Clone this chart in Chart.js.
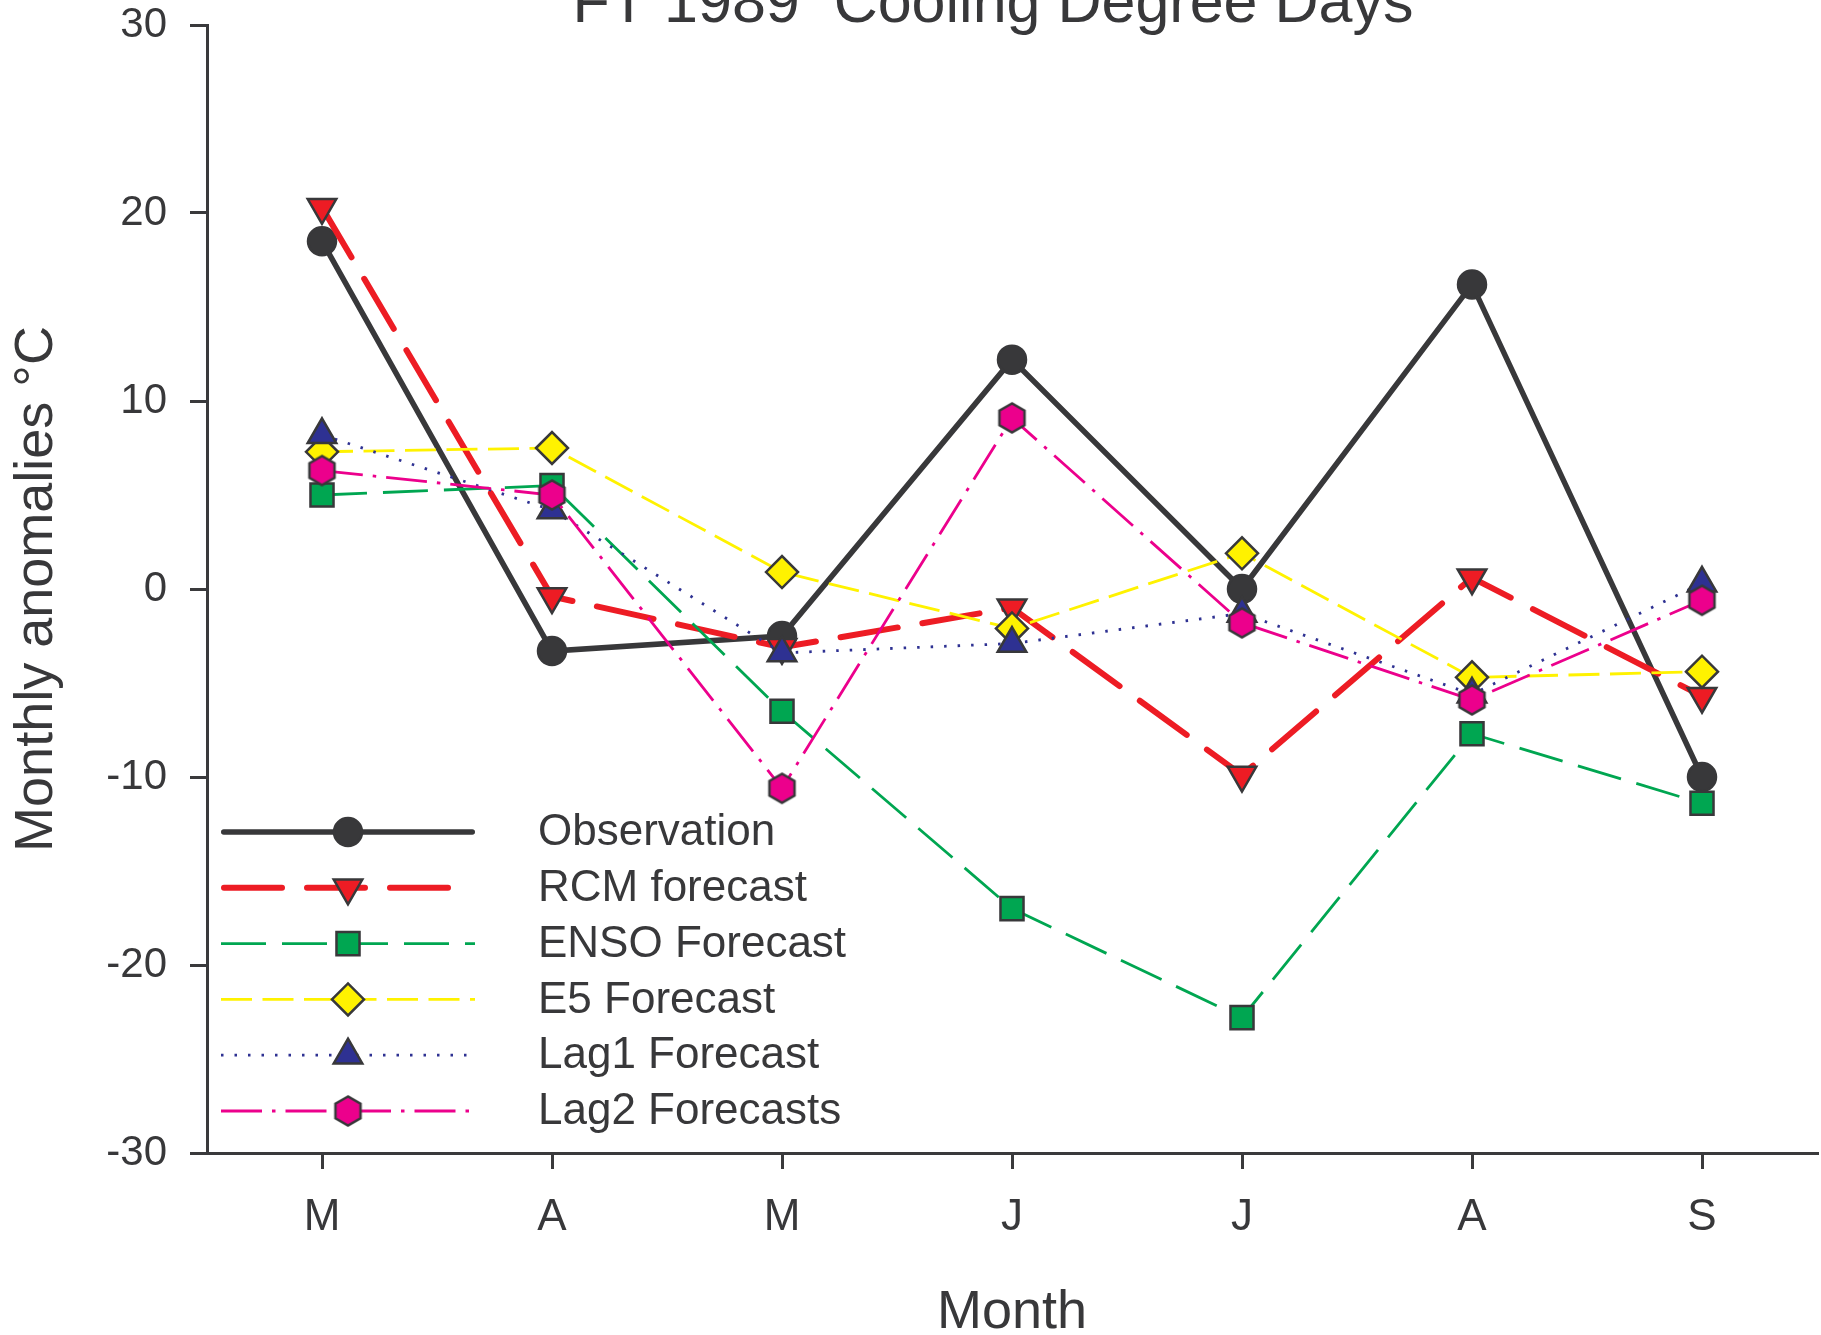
<!DOCTYPE html>
<html>
<head>
<meta charset="utf-8">
<script src="https://cdn.jsdelivr.net/npm/chart.js@4/dist/chart.umd.min.js"></script>
<style>
html,body{margin:0;padding:0;background:#fff;overflow:hidden}
#wrap{width:1821px;height:1335px;position:relative}
canvas{display:block}
</style>
</head>
<body>
<div id="wrap"><canvas id="c" width="1821" height="1335"></canvas></div>
<script>
// ---- data ----
const titleText = 'FT 1989  Cooling Degree Days';
const xTitle = 'Month';
const yTitle = 'Monthly anomalies \u00B0C';
const months = ['M', 'A', 'M', 'J', 'J', 'A', 'S'];
const yTicks = [-30, -20, -10, 0, 10, 20, 30];
const yTickLabels = ['-30', '-20', '-10', '0', '10', '20', '30'];
const seriesNames = ['Observation', 'RCM forecast', 'ENSO Forecast', 'E5 Forecast', 'Lag1 Forecast', 'Lag2 Forecasts'];
const observation = [18.5, -3.3, -2.5, 12.2, 0.0, 16.2, -10.0];
const rcmForecast = [20.3, -0.4, -3.1, -1.0, -9.9, 0.6, -5.7];
const ensoForecast = [5.0, 5.5, -6.5, -17.0, -22.8, -7.7, -11.4];
const e5Forecast = [7.3, 7.5, 0.9, -2.1, 1.9, -4.7, -4.4];
const lag1Forecast = [8.2, 4.2, -3.4, -2.9, -1.3, -5.6, 0.3];
const lag2Forecast = [6.3, 5.0, -10.6, 9.1, -1.8, -5.9, -0.6];

// ---- styles ----
const FONT = '"Liberation Sans", Arial, Helvetica, sans-serif';
const axisColor = '#3a3a3c';
const textColor = '#38383a';
const edge = '#38383a';
const C = {obs: '#38383a', rcm: '#ed1c24', enso: '#00a651', e5: '#fff200', lag1: '#2e3192', lag2: '#ec008c'};

function makeHex(R, lw, fill, stroke) {
  const w = Math.ceil(Math.sqrt(3) * R + lw * 2 + 2), h = Math.ceil(2 * R + lw * 2 + 2);
  const c = document.createElement('canvas');
  c.width = w; c.height = h;
  const g = c.getContext('2d');
  const cx = w / 2, cy = h / 2;
  g.beginPath();
  for (let i = 0; i < 6; i++) {
    const a = Math.PI / 2 + i * Math.PI / 3;
    g.lineTo(cx + R * Math.cos(a), cy - R * Math.sin(a));
  }
  g.closePath();
  g.fillStyle = fill; g.fill();
  g.lineWidth = lw; g.strokeStyle = stroke; g.stroke();
  return c;
}
const hexImg = makeHex(14.5, 2.5, C.lag2, edge);

function ds(label, data, color, width, dash, cap, pStyle, pRadius, pRot, order) {
  return {
    label, data,
    borderColor: color, borderWidth: width, borderDash: dash, borderCapStyle: cap,
    borderJoinStyle: 'miter',
    pointStyle: pStyle, pointRadius: pRadius, pointHoverRadius: pRadius, pointRotation: pRot,
    pointBackgroundColor: color, pointBorderColor: edge, pointBorderWidth: 2.5,
    tension: 0, fill: false, order, clip: false
  };
}

const datasets = [
  ds(seriesNames[0], observation, C.obs, 5.5, [], 'round', 'circle', 14, 0, 6),
  ds(seriesNames[1], rcmForecast, C.rcm, 6, [58, 25], 'round', 'triangle', 16.5, 180, 5),
  ds(seriesNames[2], ensoForecast, C.enso, 2.8, [45, 16], 'butt', 'rect', 16.3, 0, 4),
  ds(seriesNames[3], e5Forecast, C.e5, 2.8, [31, 10.5], 'butt', 'rectRot', 16, 0, 3),
  ds(seriesNames[4], lag1Forecast, C.lag1, 2.8, [2.5, 11], 'butt', 'triangle', 16.5, 0, 2),
  ds(seriesNames[5], lag2Forecast, C.lag2, 2.8, [41, 10, 3.5, 10], 'butt', hexImg, 15, 0, 1)
];

function drawMarker(ctx, d, x, y) {
  const s = d.pointStyle, r = d.pointRadius, rot = (d.pointRotation || 0) * Math.PI / 180;
  ctx.save();
  ctx.setLineDash([]);
  ctx.fillStyle = d.pointBackgroundColor;
  ctx.strokeStyle = d.pointBorderColor;
  ctx.lineWidth = d.pointBorderWidth;
  if (typeof s === 'object') {
    ctx.drawImage(s, x - s.width / 2, y - s.height / 2);
    ctx.restore();
    return;
  }
  ctx.beginPath();
  if (s === 'circle') {
    ctx.arc(x, y, r, 0, Math.PI * 2);
  } else if (s === 'triangle') {
    let a = rot;
    for (let i = 0; i < 3; i++) {
      ctx.lineTo(x + Math.sin(a) * r, y - Math.cos(a) * r);
      a += 2 * Math.PI / 3;
    }
    ctx.closePath();
  } else if (s === 'rect') {
    const h = Math.SQRT1_2 * r;
    ctx.rect(x - h, y - h, 2 * h, 2 * h);
  } else if (s === 'rectRot') {
    ctx.moveTo(x - r, y); ctx.lineTo(x, y - r); ctx.lineTo(x + r, y); ctx.lineTo(x, y + r);
    ctx.closePath();
  }
  ctx.fill();
  ctx.stroke();
  ctx.restore();
}

const titlePlugin = {
  id: 'cutTitle',
  afterDraw(chart) {
    const ctx = chart.ctx;
    ctx.save();
    ctx.fillStyle = textColor;
    ctx.font = '61px ' + FONT;
    ctx.textAlign = 'center';
    ctx.textBaseline = 'alphabetic';
    ctx.fillText(titleText, 993, 22);
    ctx.restore();
  }
};

const legendPlugin = {
  id: 'lineLegend',
  afterDraw(chart) {
    const ctx = chart.ctx;
    const x0 = 221, x1 = 475, xm = 348, xt = 538, y0 = 832, dy = 55.8;
    chart.data.datasets.forEach((d, i) => {
      const y = y0 + i * dy;
      ctx.save();
      ctx.strokeStyle = d.borderColor;
      ctx.lineWidth = d.borderWidth;
      ctx.setLineDash(d.borderDash || []);
      ctx.lineCap = d.borderCapStyle || 'butt';
      const off = ctx.lineCap === 'round' ? d.borderWidth / 2 : 0;
      ctx.beginPath();
      ctx.moveTo(x0 + off, y);
      ctx.lineTo(x1 - off, y);
      ctx.stroke();
      ctx.restore();
      drawMarker(ctx, d, xm, y);
      ctx.save();
      ctx.fillStyle = textColor;
      ctx.font = '44px ' + FONT;
      ctx.textAlign = 'left';
      ctx.textBaseline = 'middle';
      ctx.fillText(d.label, xt, y + 1);
      ctx.restore();
    });
  }
};

function zeroPad(s) { s.paddingTop = 0; s.paddingBottom = 0; s.paddingLeft = 0; s.paddingRight = 0; }

new Chart(document.getElementById('c'), {
  type: 'line',
  data: { labels: months, datasets },
  options: {
    responsive: false,
    animation: false,
    events: [],
    devicePixelRatio: 1,
    layout: { autoPadding: false, padding: { left: 0, right: 4, top: 25, bottom: 0 } },
    plugins: { legend: { display: false }, title: { display: false }, tooltip: { enabled: false } },
    scales: {
      x: {
        type: 'category',
        offset: true,
        grid: { display: true, drawOnChartArea: false, drawTicks: true, tickLength: 16, tickWidth: 3, tickColor: axisColor, color: axisColor, lineWidth: 3 },
        border: { display: true, color: axisColor, width: 3 },
        ticks: { color: textColor, font: { family: FONT, size: 44 }, padding: 22, maxRotation: 0, autoSkip: false },
        title: { display: true, text: xTitle, color: textColor, font: { family: FONT, size: 54, lineHeight: 0.8 }, padding: { top: 0, bottom: 0 } },
        afterFit: s => { s.height = 182; zeroPad(s); }
      },
      y: {
        min: -30, max: 30,
        afterBuildTicks: s => { s.ticks = yTicks.map(v => ({ value: v })); },
        grid: { display: true, drawOnChartArea: false, drawTicks: true, tickLength: 17, tickWidth: 3, tickColor: axisColor, color: axisColor, lineWidth: 3 },
        border: { display: true, color: axisColor, width: 3 },
        ticks: { color: textColor, font: { family: FONT, size: 42 }, padding: 23,
                 callback: (v) => yTickLabels[yTicks.indexOf(v)] },
        title: { display: true, text: yTitle, color: textColor, font: { family: FONT, size: 54 }, padding: { top: 5, bottom: 0 } },
        afterFit: s => { s.width = 207; zeroPad(s); }
      }
    }
  },
  plugins: [titlePlugin, legendPlugin]
});
</script>
</body>
</html>
